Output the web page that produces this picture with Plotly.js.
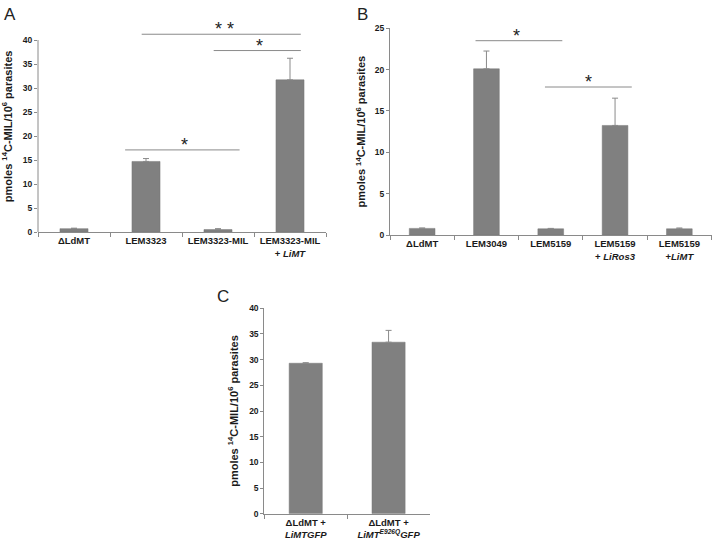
<!DOCTYPE html>
<html>
<head>
<meta charset="utf-8">
<script src="https://cdn.plot.ly/plotly-3.0.1.min.js"></script>
<style>html,body{margin:0;padding:0;background:#fff}#chart{width:720px;height:540px}</style>
</head>
<body>
<div id="chart"></div>
<script>
// ---- Panel A ----
const catsA = ['ΔLdMT', 'LEM3323', 'LEM3323-MIL', 'LEM3323-MIL<br>+ <i>LiMT</i>'];
const valsA = [0.7, 14.7, 0.5, 31.7];
const errA  = [0.1, 0.6, 0.2, 4.5];
// significance brackets A (category index units / data units)
const sigAx0 = [0.94, 1.94, 0.71];
const sigAx1 = [3.15, 3.15, 2.30];
const sigAy  = [41.2, 37.8, 17.1];
// asterisks A (one per glyph)
const starAx = [2.00, 2.17, 2.58, 1.54];
const starAy = [41.2, 41.2, 37.8, 17.1];

// ---- Panel B ----
const catsB = ['ΔLdMT', 'LEM3049', 'LEM5159', 'LEM5159<br>+ <i>LiRos3</i>', 'LEM5159<br>+<i>LiMT</i>'];
const valsB = [0.8, 20.1, 0.75, 13.25, 0.75];
const errB  = [0.05, 2.15, 0.05, 3.3, 0.1];
const sigBx0 = [0.83, 1.91];
const sigBx1 = [2.18, 3.26];
const sigBy  = [23.5, 17.9];
const starBx = [1.46, 2.58];
const starBy = [23.5, 17.9];

// ---- Panel C ----
const catsC = ['ΔLdMT +<br><i>LiMTGFP</i>', 'ΔLdMT +<br><i>LiMT<sup>E926Q</sup>GFP</i>'];
const valsC = [29.3, 33.4];
const errC  = [0.1, 2.3];

const yTitle = 'pmoles <sup>14</sup>C-MIL/10<sup>6</sup> parasites';

const barColor = '#808080';
const lineGray = '#8a8a8a';
const font = 'Liberation Sans, Arial, sans-serif';

function barTrace(cats, vals, errs, xa, ya, w) {
  return {
    type: 'bar', x: cats, y: vals, xaxis: xa, yaxis: ya, width: w,
    marker: {color: barColor, line: {color: '#777', width: 0.5}},
    error_y: {type: 'data', array: errs, symmetric: false, arrayminus: errs.map(() => 0),
              color: lineGray, thickness: 1, width: 3},
    hoverinfo: 'skip', showlegend: false
  };
}

const data = [
  barTrace(catsA, valsA, errA, 'x', 'y', 0.39),
  barTrace(catsB, valsB, errB, 'x2', 'y2', 0.40),
  barTrace(catsC, valsC, errC, 'x3', 'y3', 0.40)
];

function xAxis(domain, anchor) {
  return {
    domain: domain, anchor: anchor, type: 'category', automargin: false, tickangle: 0,
    showline: true, linecolor: lineGray, linewidth: 1,
    ticks: 'outside', tickson: 'boundaries', ticklen: 4, tickcolor: lineGray,
    tickfont: {family: font, size: 9.5, color: '#1a1a1a', weight: 'bold'},
    showgrid: false, zeroline: false, fixedrange: true
  };
}
function yAxis(domain, anchor, range, dtick, showline, standoff) {
  return {
    domain: domain, anchor: anchor, range: range, automargin: false,
    tickmode: 'array', tickvals: Array.from({length: Math.round(40/dtick)+1}, (_, i) => i*dtick).filter(v => v <= (showline ? range[1] : 40)),
    showline: showline, linecolor: lineGray, linewidth: 1,
    ticks: 'outside', ticklen: 3, tickcolor: lineGray,
    tickfont: {family: font, size: 8.5, color: '#1a1a1a', weight: 'bold'},
    showgrid: false, zeroline: false, fixedrange: true,
    title: {text: yTitle, standoff: standoff, font: {family: font, size: 11, color: '#1a1a1a', weight: 'bold'}}
  };
}

const shapes = [];
const annotations = [];

// Panel A y-axis line only spans 0..40
shapes.push({type: 'line', xref: 'x domain', yref: 'y', x0: 0, x1: 0, y0: 0, y1: 40,
             line: {color: lineGray, width: 1}});

function addSig(x0s, x1s, ys, sx, sy, xr, yr) {
  for (let i = 0; i < x0s.length; i++) {
    shapes.push({type: 'line', xref: xr, yref: yr, x0: x0s[i], x1: x1s[i], y0: ys[i], y1: ys[i],
                 line: {color: lineGray, width: 1}});
  }
  for (let i = 0; i < sx.length; i++) {
    annotations.push({xref: xr, yref: yr, x: sx[i], y: sy[i], text: '*', showarrow: false,
                      xanchor: 'center', yanchor: 'bottom', yshift: -7,
                      font: {family: font, size: 18, color: '#222'}});
  }
}
addSig(sigAx0, sigAx1, sigAy, starAx, starAy, 'x', 'y');
addSig(sigBx0, sigBx1, sigBy, starBx, starBy, 'x2', 'y2');

// Panel letters
[['A', 0.003, 0.995], ['B', 0.493, 0.995], ['C', 0.299, 0.472]].forEach(([t, x, y]) => {
  annotations.push({xref: 'paper', yref: 'paper', x: x, y: y, text: t, showarrow: false,
                    xanchor: 'left', yanchor: 'top', font: {family: font, size: 17, color: '#222'}});
});

const layout = {
  width: 720, height: 540,
  margin: {l: 0, r: 0, t: 0, b: 0},
  paper_bgcolor: '#fff', plot_bgcolor: 'rgba(0,0,0,0)',
  showlegend: false,
  xaxis:  xAxis([38/720, 326/720], 'y'),
  yaxis:  yAxis([(540-232)/540, (540-232+44*4.8)/540], 'x', [0, 44], 5, false, 8),
  xaxis2: xAxis([390/720, 711.5/720], 'y2'),
  yaxis2: yAxis([(540-235)/540, (540-28.3)/540], 'x2', [0, 25], 5, true, 6),
  xaxis3: xAxis([264.3/720, 430/720], 'y3'),
  yaxis3: yAxis([(540-513.7)/540, (540-308.3)/540], 'x3', [0, 40], 5, true, 8),
  shapes: shapes,
  annotations: annotations
};

Plotly.newPlot('chart', data, layout, {staticPlot: true, displayModeBar: false});
</script>
</body>
</html>
